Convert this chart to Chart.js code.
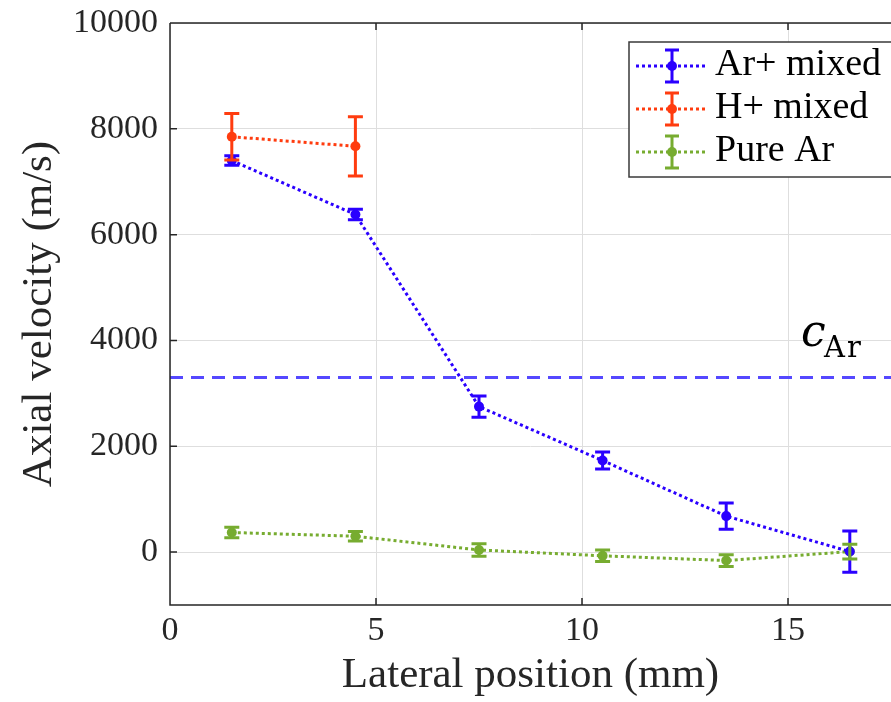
<!DOCTYPE html>
<html>
<head>
<meta charset="utf-8">
<script src="https://cdn.jsdelivr.net/npm/chart.js@4.4.1/dist/chart.umd.min.js"></script>
<style>
  html, body { margin: 0; padding: 0; background: #fff; }
  #wrap { width: 891px; height: 702px; position: relative; }
</style>
</head>
<body>
<div id="wrap"><canvas id="chart" width="891" height="702"></canvas></div>
<script>
const positions = [1.5, 4.5, 7.5, 10.5, 13.5, 16.5];
const positionsH = [1.5, 4.5];

const arMixed = [7400, 6380, 2750, 1730, 680, 10];
const arMixedErr = [90, 100, 200, 160, 250, 390];
const hMixed = [7850, 7670];
const hMixedErr = [440, 560];
const pureAr = [370, 300, 40, -70, -160, 10];
const pureArErr = [100, 90, 120, 110, 110, 140];

const soundSpeedAr = 3300;
const xTicks = [0, 5, 10, 15];
const yTicks = [0, 2000, 4000, 6000, 8000, 10000];
const X_MIN = 0, X_MAX = 17.5, Y_MIN = -1000, Y_MAX = 10000;

const BLUE = "#2a00ff";
const RED = "#ff3c0f";
const GREEN = "#77ac30";
const TEXT = "#262626";
const SERIF = "'Liberation Serif', 'DejaVu Serif', serif";

function toPoints(xs, ys) {
  return xs.map((x, i) => ({ x, y: ys[i] }));
}

const series = [
  { label: "Ar+ mixed", color: BLUE, data: toPoints(positions, arMixed), err: arMixedErr },
  { label: "H+ mixed", color: RED, data: toPoints(positionsH, hMixed), err: hMixedErr },
  { label: "Pure Ar", color: GREEN, data: toPoints(positions, pureAr), err: pureArErr }
];

const datasets = series.map((s) => ({
  label: s.label,
  data: s.data,
  errors: s.err,
  showLine: true,
  borderColor: s.color,
  backgroundColor: s.color,
  borderWidth: 3,
  borderDash: [3, 3],
  pointRadius: 5,
  pointBorderWidth: 0,
  pointHoverRadius: 5
}));

// sound speed reference line
datasets.unshift({
  label: "c_Ar",
  data: [{ x: X_MIN, y: soundSpeedAr }, { x: X_MAX, y: soundSpeedAr }],
  showLine: true,
  borderColor: "#5548ff",
  borderWidth: 2.8,
  borderDash: [13, 8],
  pointRadius: 0
});

// stretch the plot area to the right edge of the canvas
const stretchRight = {
  id: "stretchRight",
  afterLayout(chart) {
    const xs = chart.scales.x;
    chart.chartArea.right = chart.width;
    chart.chartArea.width = chart.width - chart.chartArea.left;
    xs.right = chart.width;
    xs.width = xs.right - xs.left;
    xs.configure();
  }
};

const errorBars = {
  id: "errorBars",
  afterDatasetsDraw(chart) {
    const ctx = chart.ctx;
    const xs = chart.scales.x, ys = chart.scales.y;
    chart.data.datasets.forEach((ds) => {
      if (!ds.errors) return;
      ctx.save();
      ctx.strokeStyle = ds.borderColor;
      ctx.lineWidth = 3;
      ds.data.forEach((p, i) => {
        const px = xs.getPixelForValue(p.x);
        const top = ys.getPixelForValue(p.y + ds.errors[i]);
        const bot = ys.getPixelForValue(p.y - ds.errors[i]);
        ctx.beginPath();
        ctx.moveTo(px, top); ctx.lineTo(px, bot);
        ctx.moveTo(px - 7.5, top); ctx.lineTo(px + 7.5, top);
        ctx.moveTo(px - 7.5, bot); ctx.lineTo(px + 7.5, bot);
        ctx.stroke();
      });
      ctx.restore();
    });
  }
};

const frame = {
  id: "frame",
  afterDraw(chart) {
    const ctx = chart.ctx;
    const a = chart.chartArea;
    const xs = chart.scales.x, ys = chart.scales.y;
    ctx.save();
    ctx.strokeStyle = TEXT;
    ctx.lineWidth = 1.5;
    ctx.beginPath();
    ctx.moveTo(a.left, a.top); ctx.lineTo(a.right, a.top);
    ctx.moveTo(a.left, a.top); ctx.lineTo(a.left, a.bottom);
    ctx.lineTo(a.right, a.bottom);
    // inward ticks
    xTicks.forEach((v) => {
      const px = xs.getPixelForValue(v);
      ctx.moveTo(px, a.bottom); ctx.lineTo(px, a.bottom - 7);
      ctx.moveTo(px, a.top); ctx.lineTo(px, a.top + 7);
    });
    yTicks.forEach((v) => {
      const py = ys.getPixelForValue(v);
      ctx.moveTo(a.left, py); ctx.lineTo(a.left + 7, py);
    });
    ctx.stroke();

    // c_Ar label
    ctx.fillStyle = "#000";
    ctx.textBaseline = "alphabetic";
    ctx.font = "italic 44px 'DejaVu Serif', serif";
    ctx.fillText("c", 801, 346);
    ctx.font = "29px 'DejaVu Serif', serif";
    ctx.letterSpacing = "2px";
    ctx.fillText("Ar", 824, 357);
    ctx.letterSpacing = "0px";

    // legend
    const lx = 629, lyTop = 42, lh = 135;
    ctx.fillStyle = "#fff";
    ctx.fillRect(lx, lyTop, a.right - lx + 5, lh);
    ctx.strokeStyle = "#3a3a3a";
    ctx.lineWidth = 1.5;
    ctx.strokeRect(lx, lyTop, a.right - lx + 5, lh);
    series.forEach((s, i) => {
      const cy = 66 + i * 43;
      ctx.strokeStyle = s.color;
      ctx.lineWidth = 3;
      ctx.setLineDash([3, 3]);
      ctx.beginPath();
      ctx.moveTo(636, cy); ctx.lineTo(707, cy);
      ctx.stroke();
      ctx.setLineDash([]);
      ctx.beginPath();
      ctx.moveTo(672, cy - 16); ctx.lineTo(672, cy + 16);
      ctx.moveTo(665, cy - 16); ctx.lineTo(679, cy - 16);
      ctx.moveTo(665, cy + 16); ctx.lineTo(679, cy + 16);
      ctx.stroke();
      ctx.fillStyle = s.color;
      ctx.beginPath();
      ctx.arc(672, cy, 5, 0, Math.PI * 2);
      ctx.fill();
      ctx.fillStyle = "#000";
      ctx.font = "38px " + SERIF;
      ctx.textBaseline = "alphabetic";
      ctx.fillText(s.label, 715, cy + 9);
    });
    ctx.restore();
  }
};

new Chart(document.getElementById("chart"), {
  type: "scatter",
  data: { datasets },
  options: {
    responsive: false,
    animation: false,
    events: [],
    layout: { padding: { top: 23, right: 0, left: 0, bottom: 0 } },
    plugins: {
      legend: { display: false },
      tooltip: { enabled: false }
    },
    scales: {
      x: {
        type: "linear",
        min: X_MIN,
        max: X_MAX,
        afterBuildTicks: (axis) => { axis.ticks = xTicks.map((v) => ({ value: v })); },
        afterFit: (axis) => {
          axis.height = 97;
          axis.paddingLeft = 0; axis.paddingRight = 0;
        },
        grid: { color: "#dedede", lineWidth: 1, drawTicks: false },
        border: { display: false },
        ticks: { color: TEXT, padding: 6, font: { family: SERIF, size: 34 }, callback: (v) => String(v) },
        title: {
          display: true,
          text: "Lateral position (mm)",
          color: TEXT,
          padding: { top: 0, bottom: 0 },
          font: { family: SERIF, size: 43 }
        }
      },
      y: {
        type: "linear",
        min: Y_MIN,
        max: Y_MAX,
        afterBuildTicks: (axis) => { axis.ticks = yTicks.map((v) => ({ value: v })); },
        afterFit: (axis) => {
          axis.width = 170;
          axis.paddingTop = 0; axis.paddingBottom = 0;
        },
        grid: { color: "#dedede", lineWidth: 1, drawTicks: false },
        border: { display: false },
        ticks: { color: TEXT, padding: 12, font: { family: SERIF, size: 34 }, callback: (v) => String(v) },
        title: {
          display: true,
          text: "Axial velocity (m/s)",
          color: TEXT,
          padding: { top: 14, bottom: 0 },
          font: { family: SERIF, size: 43 }
        }
      }
    }
  },
  plugins: [stretchRight, errorBars, frame]
});
</script>
</body>
</html>
